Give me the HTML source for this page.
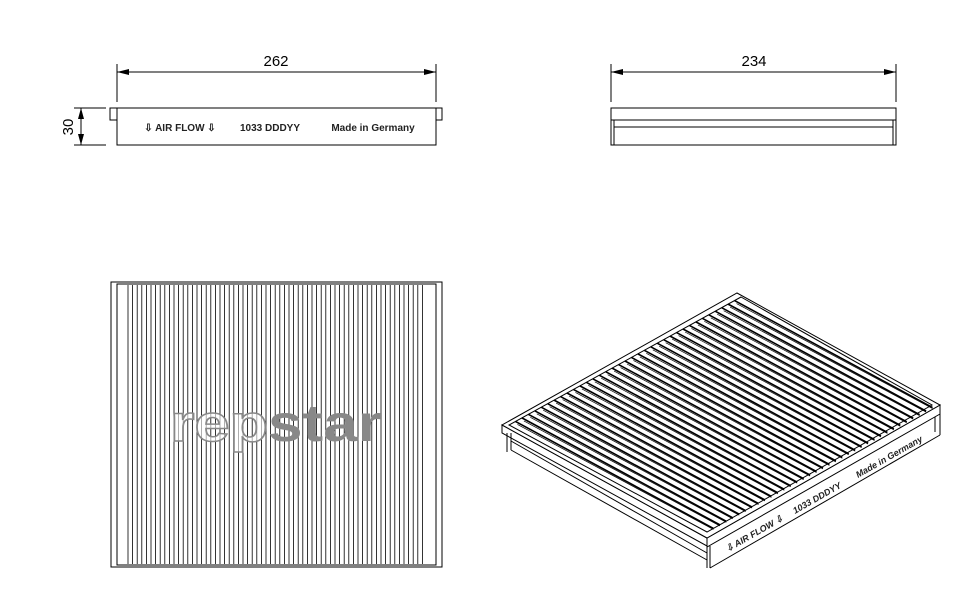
<!DOCTYPE html>
<html><head><meta charset="utf-8"><style>
html,body{margin:0;padding:0;background:#fff;width:963px;height:601px;overflow:hidden}
svg{display:block}
text{font-family:"Liberation Sans",sans-serif}
</style></head><body>
<svg id="s" width="963" height="601" viewBox="0 0 963 601" xmlns="http://www.w3.org/2000/svg">
<g stroke="#000" fill="none" stroke-width="1">
<line x1="117" y1="64" x2="117" y2="102"/>
<line x1="436" y1="64" x2="436" y2="102"/>
<line x1="117" y1="72" x2="436" y2="72"/>
<rect x="117" y="108" width="319" height="37"/>
<rect x="110" y="108" width="7" height="12"/>
<rect x="436" y="108" width="6" height="12"/>
<line x1="74" y1="108" x2="106" y2="108"/>
<line x1="74" y1="145" x2="106" y2="145"/>
<line x1="81" y1="108" x2="81" y2="145"/>
<line x1="611" y1="64" x2="611" y2="102"/>
<line x1="896" y1="64" x2="896" y2="102"/>
<line x1="611" y1="72" x2="896" y2="72"/>
<rect x="611" y="108" width="285" height="37"/>
<line x1="611" y1="120" x2="896" y2="120"/>
<line x1="614" y1="127" x2="893" y2="127"/>
<line x1="614" y1="120" x2="614" y2="145"/>
<line x1="893" y1="120" x2="893" y2="145"/>
<rect x="111" y="282" width="331" height="285"/>
<rect x="117" y="284" width="319" height="281"/>
<g id="pl"></g>
<g id="iso"></g>
</g>
<g fill="#000">
<polygon points="117,72 129,69 129,75"/>
<polygon points="436,72 424,69 424,75"/>
<polygon points="611,72 623,69 623,75"/>
<polygon points="896,72 884,69 884,75"/>
<polygon points="81,108 78,119 84,119"/>
<polygon points="81,145 78,134 84,134"/>
</g>
<text x="276" y="66" font-size="15" text-anchor="middle">262</text>
<text x="754" y="66" font-size="15" text-anchor="middle">234</text>
<text x="0" y="0" font-size="15" text-anchor="middle" transform="translate(73,127) rotate(-90)">30</text>
<text x="180" y="131" font-size="10" font-weight="bold" text-anchor="middle" fill="#222">⇩ AIR FLOW ⇩</text>
<text x="270" y="131" font-size="10" font-weight="bold" text-anchor="middle" fill="#222">1033 DDDYY</text>
<text x="373" y="131" font-size="10" font-weight="bold" text-anchor="middle" fill="#222">Made in Germany</text>
<text x="170" y="441" font-size="52" font-weight="bold" fill="#fff" fill-opacity="0.6" stroke="#888" stroke-width="1.5" textLength="98" lengthAdjust="spacingAndGlyphs">rep</text>
<text x="268" y="441" font-size="52" font-weight="bold" fill="#888" textLength="114" lengthAdjust="spacingAndGlyphs">star</text>
<g font-size="9" font-weight="bold" fill="#222" font-style="italic">
<text transform="translate(728,552) rotate(-29.7)">⇩ AIR FLOW ⇩</text>
<text transform="translate(795,514) rotate(-29.7)">1033 DDDYY</text>
<text transform="translate(858,478) rotate(-29.7)">Made in Germany</text>
</g>
</svg>
<script>
var NS="http://www.w3.org/2000/svg";
function L(g,x1,y1,x2,y2,w){var l=document.createElementNS(NS,"line");l.setAttribute("x1",x1);l.setAttribute("y1",y1);l.setAttribute("x2",x2);l.setAttribute("y2",y2);if(w)l.setAttribute("stroke-width",w);g.appendChild(l);}
function P(g,pts){var p=document.createElementNS(NS,"polygon");p.setAttribute("points",pts);p.setAttribute("fill","#fff");g.appendChild(p);}
var pl=document.getElementById("pl");
for(var x=128;x<=426;x+=4.6){L(pl,x,285,x,564,0.8);}
var g=document.getElementById("iso");
P(g,"502,425 707,538 707,546 502,433");
P(g,"707,538 940,405 940,414 707,547");
L(g,507,433,507,452);L(g,511,433,511,450);
L(g,511,441,707,553);L(g,511,450,707,560);
L(g,707,546,707,568);L(g,710,546,710,568);
L(g,710,568,940,435);L(g,940,414,940,435);L(g,935,417,935,432);
P(g,"737,293 940,405 707,538 502,425");
P(g,"741,297 932,405 707,532 509,425");
var N=36,dx=707-509,dy=532-425;
for(var i=1;i<N;i++){var t=i/N;
var x=509+t*(741-509),y=425+t*(297-425);
L(g,x,y,x+dx,y+dy,1.6);
L(g,x+2,y+3,x+dx,y+dy+1,0.7);
}
</script>
</body></html>
